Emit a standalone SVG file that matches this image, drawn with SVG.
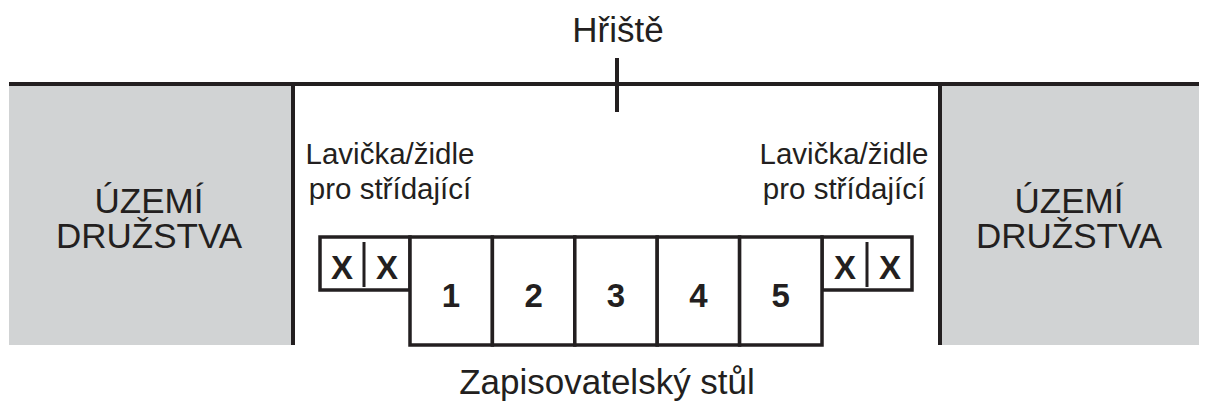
<svg xmlns="http://www.w3.org/2000/svg" width="1209" height="408" viewBox="0 0 1209 408">
<style>
.t{font-family:"Liberation Sans",Arial,Helvetica,sans-serif;fill:#231f20;text-anchor:middle}
.n{font-size:35px}
.s{font-size:29.5px}
.b{font-size:33px;font-weight:bold}
.ln{stroke:#231f20;stroke-width:4;fill:none}
.bx{stroke:#231f20;stroke-width:3.5;fill:#fff}
.zone{fill:#d1d3d4}
</style>
<rect width="1209" height="408" fill="#fff"/>
<g id="uzemi-left">
<rect class="zone" x="9" y="86" width="283" height="259"/>
<text class="t n" x="149" y="213">ÚZEMÍ</text>
<text class="t n" x="149" y="248">DRUŽSTVA</text>
</g>
<g id="uzemi-right">
<rect class="zone" x="942" y="86" width="257" height="259"/>
<text class="t n" x="1069" y="213">ÚZEMÍ</text>
<text class="t n" x="1069" y="248">DRUŽSTVA</text>
</g>
<g id="lines">
<line class="ln" x1="9" y1="84" x2="1199" y2="84"/>
<line class="ln" x1="293" y1="82" x2="293" y2="345"/>
<line class="ln" x1="940" y1="82" x2="940" y2="345"/>
<line class="ln" x1="617" y1="58" x2="617" y2="112"/>
</g>
<g id="hriste">
<text class="t n" x="618" y="42">Hřiště</text>
</g>
<g id="label-left">
<text class="t s" x="390" y="164">Lavička/židle</text>
<text class="t s" x="390" y="199">pro střídající</text>
</g>
<g id="label-right">
<text class="t s" x="844" y="164">Lavička/židle</text>
<text class="t s" x="844" y="199">pro střídající</text>
</g>
<g id="bench-left">
<rect class="bx" x="320" y="237" width="90" height="53"/>
<line x1="364" y1="242" x2="364" y2="287" stroke="#231f20" stroke-width="3"/>
<text class="t b" x="342" y="279">X</text>
<text class="t b" x="387" y="279">X</text>
</g>
<g id="bench-right">
<rect class="bx" x="822" y="237" width="90" height="53"/>
<line x1="867" y1="242" x2="867" y2="287" stroke="#231f20" stroke-width="3"/>
<text class="t b" x="845" y="279">X</text>
<text class="t b" x="890" y="279">X</text>
</g>
<g id="table">
<rect class="bx" x="410" y="237" width="82.4" height="108"/>
<rect class="bx" x="492.4" y="237" width="82.4" height="108"/>
<rect class="bx" x="574.8" y="237" width="82.4" height="108"/>
<rect class="bx" x="657.2" y="237" width="82.4" height="108"/>
<rect class="bx" x="739.6" y="237" width="82.4" height="108"/>
<text class="t b" x="451" y="307">1</text>
<text class="t b" x="533.6" y="307">2</text>
<text class="t b" x="616" y="307">3</text>
<text class="t b" x="698.4" y="307">4</text>
<text class="t b" x="780.8" y="307">5</text>
</g>
<g id="zapisovatelsky">
<text class="t n" x="607" y="394">Zapisovatelský stůl</text>
</g>
</svg>
